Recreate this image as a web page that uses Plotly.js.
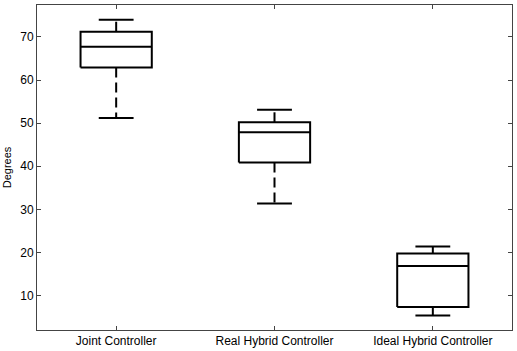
<!DOCTYPE html>
<html>
<head>
<meta charset="utf-8">
<script src="https://cdn.plot.ly/plotly-3.0.1.min.js"></script>
<style>html,body{margin:0;padding:0;background:#fff;}#chart{width:517px;height:351px;}</style>
</head>
<body>
<div id="chart"></div>
<script>
var categories = ["Joint Controller", "Real Hybrid Controller", "Ideal Hybrid Controller"];
var lowerWhisker = [51.2, 31.4, 5.4];
var q1 = [62.9, 40.9, 7.4];
var median = [67.7, 47.9, 16.9];
var q3 = [71.2, 50.2, 19.8];
var upperWhisker = [74.0, 53.1, 21.4];
var yTicks = [10, 20, 30, 40, 50, 60, 70];

var boxHalf = 0.225, capHalf = 0.11;
var traces = [];
function seg(x, y, dash) {
  traces.push({type: "scatter", mode: "lines", x: x, y: y, hoverinfo: "skip", showlegend: false,
    line: {color: "#000", width: 2, dash: dash || "solid"}});
}
for (var i = 0; i < categories.length; i++) {
  var c = i + 1;
  seg([c, c], [q3[i], upperWhisker[i]], "10px,5px");
  seg([c, c], [q1[i], lowerWhisker[i]], "10px,5px");
  seg([c - capHalf, c + capHalf], [upperWhisker[i], upperWhisker[i]]);
  seg([c - capHalf, c + capHalf], [lowerWhisker[i], lowerWhisker[i]]);
  seg([c - boxHalf, c + boxHalf, c + boxHalf, c - boxHalf, c - boxHalf], [q1[i], q1[i], q3[i], q3[i], q1[i]]);
  seg([c - boxHalf, c + boxHalf], [median[i], median[i]]);
}

var layout = {
  width: 517, height: 351,
  margin: {l: 37, r: 5, t: 5, b: 21},
  paper_bgcolor: "#fff", plot_bgcolor: "#fff",
  font: {family: "Liberation Sans, Arial, sans-serif", size: 12, color: "#000"},
  showlegend: false,
  xaxis: {
    range: [0.5, 3.5], tickvals: [1, 2, 3], ticktext: categories,
    showgrid: false, zeroline: false, showline: true, linecolor: "#444", linewidth: 1,
    mirror: "ticks", ticks: "inside", ticklen: 4, tickcolor: "#444",
    tickfont: {size: 12, color: "#000"}, fixedrange: true
  },
  yaxis: {
    range: [2.04, 77.4], tickvals: yTicks,
    showgrid: false, zeroline: false, showline: true, linecolor: "#444", linewidth: 1,
    mirror: "ticks", ticks: "inside", ticklen: 4, tickcolor: "#444",
    tickfont: {size: 12, color: "#000"},
    title: {text: "Degrees", font: {size: 11, color: "#000"}, standoff: 6},
    automargin: false, fixedrange: true
  }
};
Plotly.newPlot("chart", traces, layout, {displayModeBar: false, staticPlot: true});
</script>
</body>
</html>
